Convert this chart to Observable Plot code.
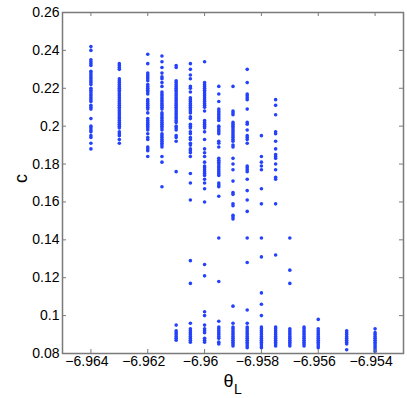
<!DOCTYPE html>
<html>
<head>
<meta charset="utf-8">
<script src="https://cdn.jsdelivr.net/npm/d3@7"></script>
<script src="https://cdn.jsdelivr.net/npm/@observablehq/plot@0.6"></script>
<style>
  html, body { margin: 0; padding: 0; background: #fff; }
  svg { display: block; }
</style>
</head>
<body>
<div id="chart"></div>
<script>
// Column positions (theta_L)
const thetaL = [-6.964, -6.963, -6.962, -6.9615, -6.961, -6.9605, -6.96, -6.9595, -6.959, -6.9585, -6.958, -6.9575, -6.957, -6.9565, -6.956, -6.955, -6.954];

// c values for each column
const c_6964 = [0.242, 0.240, 0.235, 0.234, 0.233, 0.232, 0.229, 0.228, 0.227, 0.226, 0.225, 0.224, 0.223, 0.222, 0.220, 0.219, 0.218, 0.217, 0.216, 0.215, 0.214, 0.213, 0.211, 0.210, 0.209, 0.204, 0.200, 0.199, 0.198, 0.197, 0.195, 0.194, 0.191, 0.188];
const c_6963 = [0.233, 0.232, 0.231, 0.230, 0.225, 0.224, 0.223, 0.222, 0.221, 0.220, 0.219, 0.218, 0.217, 0.216, 0.215, 0.214, 0.213, 0.212, 0.211, 0.210, 0.209, 0.208, 0.207, 0.206, 0.205, 0.204, 0.203, 0.202, 0.201, 0.200, 0.199, 0.197, 0.196, 0.195, 0.193, 0.191];
const c_6962 = [0.238, 0.233, 0.228, 0.227, 0.226, 0.225, 0.224, 0.222, 0.221, 0.220, 0.219, 0.218, 0.217, 0.214, 0.213, 0.212, 0.211, 0.210, 0.209, 0.207, 0.204, 0.203, 0.202, 0.201, 0.200, 0.199, 0.198, 0.196, 0.194, 0.193, 0.189, 0.188, 0.187, 0.184];
const c_69615 = [0.237, 0.234, 0.231, 0.228, 0.226, 0.225, 0.223, 0.221, 0.218, 0.217, 0.216, 0.215, 0.214, 0.213, 0.212, 0.211, 0.210, 0.209, 0.207, 0.206, 0.205, 0.204, 0.203, 0.202, 0.201, 0.200, 0.199, 0.198, 0.196, 0.195, 0.194, 0.193, 0.192, 0.191, 0.190, 0.189, 0.184, 0.181, 0.168];
const c_6961 = [0.232, 0.231, 0.224, 0.223, 0.222, 0.221, 0.220, 0.219, 0.218, 0.217, 0.216, 0.215, 0.214, 0.213, 0.212, 0.211, 0.210, 0.209, 0.208, 0.207, 0.206, 0.205, 0.204, 0.203, 0.202, 0.200, 0.199, 0.198, 0.195, 0.194, 0.192, 0.176, 0.095, 0.092, 0.091, 0.090, 0.089, 0.088, 0.087];
const c_69605 = [0.233, 0.230, 0.227, 0.225, 0.221, 0.220, 0.218, 0.215, 0.214, 0.213, 0.212, 0.211, 0.210, 0.209, 0.208, 0.207, 0.205, 0.204, 0.201, 0.200, 0.199, 0.197, 0.196, 0.194, 0.193, 0.191, 0.190, 0.188, 0.187, 0.186, 0.184, 0.175, 0.170, 0.161, 0.129, 0.117, 0.096, 0.093, 0.092, 0.091, 0.090, 0.089, 0.088, 0.087, 0.086];
const c_6960 = [0.234, 0.223, 0.222, 0.221, 0.220, 0.219, 0.218, 0.217, 0.216, 0.215, 0.214, 0.213, 0.212, 0.211, 0.210, 0.208, 0.203, 0.202, 0.201, 0.200, 0.199, 0.197, 0.193, 0.188, 0.186, 0.184, 0.181, 0.179, 0.178, 0.177, 0.176, 0.175, 0.174, 0.172, 0.170, 0.167, 0.160, 0.127, 0.121, 0.102, 0.100, 0.095, 0.093, 0.092, 0.091, 0.088, 0.087, 0.086];
const c_69595 = [0.221, 0.217, 0.213, 0.209, 0.208, 0.207, 0.206, 0.205, 0.204, 0.203, 0.200, 0.199, 0.198, 0.197, 0.196, 0.192, 0.191, 0.189, 0.183, 0.182, 0.181, 0.180, 0.179, 0.178, 0.177, 0.176, 0.175, 0.174, 0.170, 0.169, 0.168, 0.163, 0.141, 0.118, 0.097, 0.094, 0.093, 0.092, 0.091, 0.090, 0.089, 0.088, 0.086, 0.085];
const c_6959 = [0.221, 0.208, 0.207, 0.206, 0.202, 0.201, 0.200, 0.199, 0.198, 0.197, 0.196, 0.195, 0.194, 0.193, 0.192, 0.190, 0.189, 0.183, 0.180, 0.177, 0.171, 0.165, 0.164, 0.159, 0.158, 0.153, 0.152, 0.151, 0.105, 0.096, 0.094, 0.093, 0.092, 0.091, 0.090, 0.089, 0.088, 0.087, 0.086, 0.085, 0.084];
const c_69585 = [0.230, 0.223, 0.217, 0.216, 0.215, 0.214, 0.209, 0.202, 0.201, 0.198, 0.195, 0.194, 0.193, 0.191, 0.179, 0.178, 0.177, 0.176, 0.172, 0.166, 0.161, 0.155, 0.141, 0.128, 0.103, 0.096, 0.094, 0.093, 0.092, 0.091, 0.090, 0.089, 0.088, 0.087, 0.086, 0.085, 0.084, 0.083];
const c_6958 = [0.195, 0.184, 0.181, 0.179, 0.177, 0.167, 0.159, 0.141, 0.131, 0.112, 0.106, 0.100, 0.094, 0.093, 0.092, 0.091, 0.090, 0.089, 0.088, 0.087, 0.086, 0.085, 0.084, 0.083];
const c_69575 = [0.214, 0.211, 0.206, 0.197, 0.196, 0.192, 0.188, 0.185, 0.184, 0.183, 0.180, 0.177, 0.173, 0.172, 0.159, 0.132, 0.094, 0.093, 0.092, 0.091, 0.090, 0.089, 0.088, 0.087, 0.086, 0.085, 0.084];
const c_6957 = [0.141, 0.124, 0.117, 0.093, 0.092, 0.091, 0.090, 0.089, 0.088, 0.087, 0.086, 0.085, 0.084];
const c_69565 = [0.094, 0.093, 0.092, 0.091, 0.090, 0.089, 0.088, 0.087, 0.086, 0.085, 0.084];
const c_6956 = [0.098, 0.093, 0.092, 0.091, 0.090, 0.089, 0.088, 0.087, 0.086, 0.085, 0.084, 0.083];
const c_6955 = [0.092, 0.091, 0.090, 0.089, 0.088, 0.087, 0.086, 0.085, 0.082];
const c_6954 = [0.093, 0.091, 0.090, 0.089, 0.088, 0.087, 0.086, 0.085, 0.084, 0.083, 0.082, 0.081];

const cColumns = [c_6964, c_6963, c_6962, c_69615, c_6961, c_69605, c_6960, c_69595, c_6959, c_69585, c_6958, c_69575, c_6957, c_69565, c_6956, c_6955, c_6954];

// Ticks
const xTicks = [-6.964, -6.962, -6.96, -6.958, -6.956, -6.954];
const xTickLabels = ["\u22126.964", "\u22126.962", "\u22126.96", "\u22126.958", "\u22126.956", "\u22126.954"];
const yTicks = [0.08, 0.1, 0.12, 0.14, 0.16, 0.18, 0.2, 0.22, 0.24, 0.26];
const yTickLabels = ["0.08", "0.1", "0.12", "0.14", "0.16", "0.18", "0.2", "0.22", "0.24", "0.26"];

const data = thetaL.flatMap((t, i) => cColumns[i].map(c => ({theta: t, c})));

const W = 407, H = 398;
const mL = 62, mR = 4, mT = 12, mB = 45;
const plotW = W - mL - mR, plotH = H - mT - mB;
const tickLen = 4;
const axisColor = "#7a7a7a";
const font = "'Liberation Sans', Arial, Helvetica, sans-serif";

const chart = Plot.plot({
  width: W,
  height: H,
  marginLeft: mL, marginRight: mR, marginTop: mT, marginBottom: mB,
  style: {fontFamily: font, background: "#fff", color: "#000"},
  x: {domain: [-6.965, -6.953]},
  y: {domain: [0.08, 0.26]},
  marks: [
    Plot.dot(data, {x: "theta", y: "c", r: 1.8, fill: "#2441fb", stroke: "none"}),
    // inward ticks
    Plot.ruleX(xTicks, {x: d => d, insetTop: plotH - tickLen, stroke: axisColor}),
    Plot.ruleX(xTicks, {x: d => d, insetBottom: plotH - tickLen, stroke: axisColor}),
    Plot.ruleY(yTicks, {y: d => d, insetRight: plotW - tickLen, stroke: axisColor}),
    Plot.ruleY(yTicks, {y: d => d, insetLeft: plotW - tickLen, stroke: axisColor}),
    Plot.frame({stroke: axisColor, strokeWidth: 1.5}),
    Plot.axisX({ticks: xTicks, tickFormat: (d) => xTickLabels[xTicks.indexOf(d)], tickSize: 0, tickPadding: 3, fontSize: 14, dx: -4, label: null}),
    Plot.axisY({ticks: yTicks, tickFormat: (d) => yTickLabels[yTicks.findIndex(t => Math.abs(t - d) < 1e-9)], tickSize: 0, tickPadding: 3, fontSize: 14, label: null}),
    Plot.text(["c"], {frameAnchor: "left", dx: -41, rotate: -90, fontSize: 18, fill: "#000"}),
    Plot.text(["\u03b8"], {frameAnchor: "bottom", dx: -4.5, dy: 33.5, fontSize: 18, fill: "#000"}),
    Plot.text(["L"], {frameAnchor: "bottom", dx: 5, dy: 40.5, fontSize: 14, fill: "#000"})
  ]
});
document.getElementById("chart").appendChild(chart);
</script>
</body>
</html>
